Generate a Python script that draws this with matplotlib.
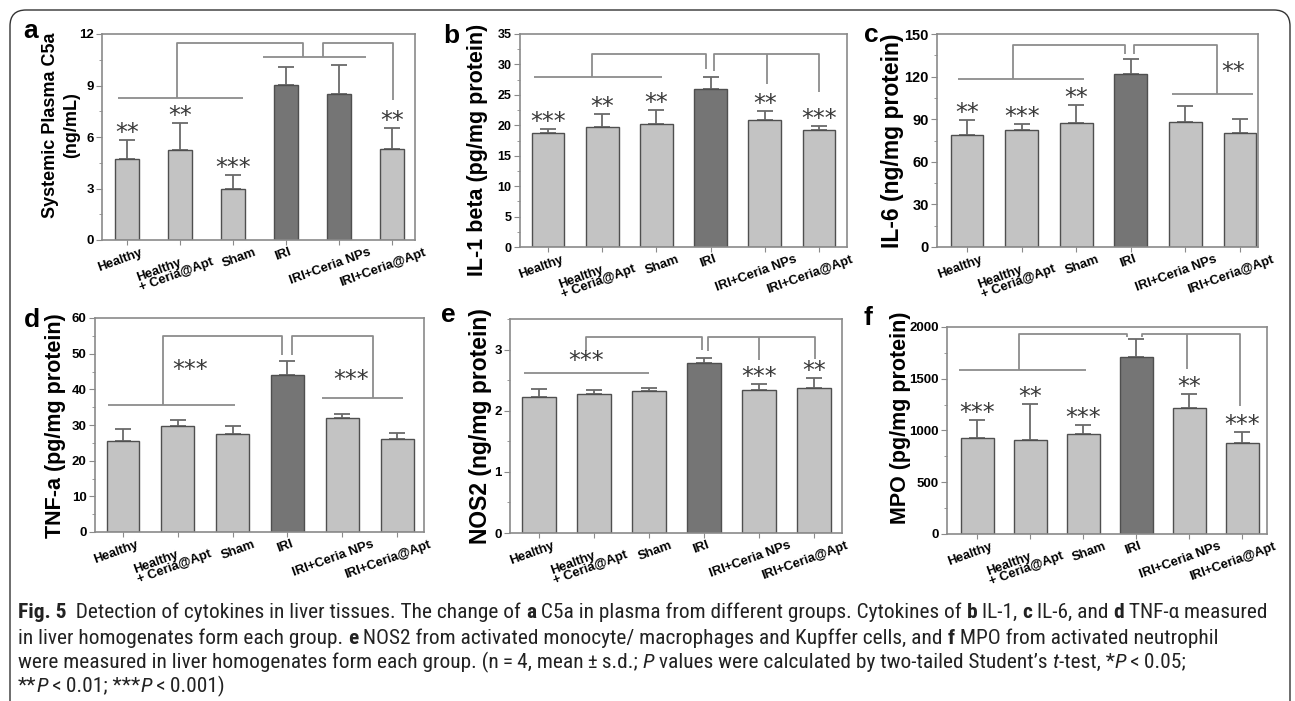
import matplotlib
matplotlib.use('Agg')
import matplotlib.pyplot as plt
from matplotlib.patches import FancyBboxPatch
from matplotlib.ticker import MultipleLocator, AutoMinorLocator
from matplotlib.transforms import ScaledTranslation
from matplotlib import font_manager

# groups and values (mean and s.d.)
groups = ['Healthy', 'Healthy\n+ Ceria@Apt', 'Sham', 'IRI', 'IRI+Ceria NPs', 'IRI+Ceria@Apt']

c5a_mean = [4.72, 5.27, 2.95, 9.05, 8.53, 5.33]
c5a_sd = [1.13, 1.53, 0.83, 1.0, 1.64, 1.18]
c5a_stars = ['**', '**', '***', '', '', '**']

il1_mean = [18.7, 19.7, 20.2, 25.9, 20.9, 19.2]
il1_sd = [0.75, 2.1, 2.3, 2.0, 1.4, 0.7]
il1_stars = ['***', '**', '**', '', '**', '***']

il6_mean = [78.6, 82.2, 87.6, 122.0, 88.0, 80.3]
il6_sd = [10.6, 4.7, 12.2, 10.4, 11.5, 9.6]
il6_stars = ['**', '***', '**', '', '', '']

tnf_mean = [25.6, 29.6, 27.6, 44.1, 32.0, 26.1]
tnf_sd = [3.3, 1.9, 2.2, 3.8, 1.2, 1.7]
tnf_stars = ['', '', '', '', '', '']

nos2_mean = [2.23, 2.28, 2.33, 2.78, 2.34, 2.375]
nos2_sd = [0.12, 0.06, 0.045, 0.09, 0.09, 0.165]
nos2_stars = ['', '', '', '', '***', '**']

mpo_mean = [932, 907, 971, 1711, 1222, 875]
mpo_sd = [168, 347, 80, 170, 135, 112]
mpo_stars = ['***', '**', '***', '', '**', '***']

# comparison brackets, in data units (bar index, value)
c5a_brackets = [
    ([-0.17, 2.19], [8.25, 8.25]),
    ([0.94, 0.94, 3.32, 3.32], [8.25, 11.48, 11.48, 10.66]),
    ([2.57, 4.5], [10.66, 10.66]),
    ([3.7, 3.7, 5.02, 5.02], [10.66, 11.48, 11.48, 8.16]),
]
il1_brackets = [
    ([-0.26, 2.1], [28.0, 28.0]),
    ([0.81, 0.81, 2.92, 2.92], [28.0, 31.7, 31.7, 29.3]),
    ([3.06, 3.06, 5.0, 5.0], [29.0, 31.7, 31.7, 25.4]),
    ([4.04, 4.04], [31.7, 26.8]),
]
il6_brackets = [
    ([-0.16, 2.14], [118.5, 118.5]),
    ([0.84, 0.84, 2.89, 2.89], [118.5, 142.0, 142.0, 136.2]),
    ([3.06, 3.06, 4.58, 4.58], [136.2, 142.0, 142.0, 107.5]),
    ([3.75, 5.23], [107.5, 107.5]),
]
il6_notes = [(4.88, 123.2, '**')]
tnf_brackets = [
    ([-0.27, 2.04], [35.7, 35.7]),
    ([0.73, 0.73, 2.9, 2.9], [35.7, 55.0, 55.0, 49.7]),
    ([3.08, 3.08, 4.56, 4.56], [49.7, 55.0, 55.0, 37.6]),
    ([3.63, 5.11], [37.6, 37.6]),
]
tnf_notes = [(1.22, 45.5, '***'), (4.16, 42.7, '***')]
nos2_brackets = [
    ([-0.27, 2.0], [2.62, 2.62]),
    ([0.85, 0.85, 2.96, 2.96], [2.98, 3.21, 3.21, 2.99]),
    ([3.07, 3.07, 5.02, 5.02], [2.98, 3.21, 3.21, 2.84]),
    ([4.0, 4.0], [3.21, 2.83]),
]
nos2_notes = [(0.85, 2.81, '***')]
mpo_brackets = [
    ([-0.34, 2.06], [1582, 1582]),
    ([0.79, 0.79, 2.83, 2.83], [1582, 1936, 1936, 1900]),
    ([3.11, 3.11, 4.96, 4.96], [1900, 1936, 1936, 1235]),
    ([3.96, 3.96], [1936, 1598]),
]

W, H = 1295, 701
fig = plt.figure(figsize=(W / 100, H / 100), dpi=100)
plt.rcParams['font.family'] = ['Liberation Sans', 'DejaVu Sans']

light = '#c3c3c3'
dark = '#757575'
edge = '#4f4f4f'
line_c = '#8c8c8c'
spine_c = '#8a8a8a'
# nudge of each rotated group label, in pixels
label_nudge = [-7, -5, 6, -3, -9, -9]


def px(x0, y_top, x1, y_bot):
    # pixel box -> figure fraction
    return [x0 / W, 1 - y_bot / H, (x1 - x0) / W, (y_bot - y_top) / H]


def panel(rect, xlim, ylim, step, mean, sd, stars, brackets, notes, width, dark_bars, ytick_fs):
    ax = fig.add_axes(rect)
    x = list(range(len(mean)))
    colors = [dark if g in dark_bars else light for g in groups]
    ax.bar(x, mean, width=width, color=colors, edgecolor=edge, linewidth=1.0, zorder=2)
    ax.errorbar(x, mean, yerr=[[0] * len(sd), sd], fmt='none', ecolor='#6a6a6a',
                elinewidth=1.3, capsize=5.5, capthick=1.3, zorder=1)
    for i, s in enumerate(stars):
        if s:
            ax.annotate(s, (i, mean[i] + sd[i]), xytext=(0, 5), textcoords='offset points',
                        ha='center', va='center', fontsize=17, color='#3a3a3a',
                        family='DejaVu Sans')
    for xs, ys in brackets:
        ax.plot(xs, ys, color=line_c, lw=1.3, solid_capstyle='butt', clip_on=False)
    for nx, ny, s in notes:
        ax.text(nx, ny, s, ha='center', va='center', fontsize=17, color='#3a3a3a',
                family='DejaVu Sans')
    ax.set_xlim(*xlim)
    ax.set_ylim(*ylim)
    ax.yaxis.set_major_locator(MultipleLocator(step))
    ax.yaxis.set_minor_locator(AutoMinorLocator(2))
    ax.set_xticks(x)
    ax.tick_params(axis='both', which='both', color=spine_c, direction='out')
    ax.tick_params(axis='y', which='major', length=4, pad=2)
    ax.tick_params(axis='y', which='minor', length=2.5)
    ax.tick_params(axis='x', length=3.5, pad=1)
    ax.set_xticklabels(groups, rotation=20, ha='center', va='top', multialignment='left',
                       fontsize=9.4, fontweight='bold', linespacing=0.8)
    for lab, dx in zip(ax.get_xticklabels(), label_nudge):
        lab.set_transform(lab.get_transform() + ScaledTranslation(dx / 100, 0, fig.dpi_scale_trans))
    for lab in ax.get_yticklabels():
        lab.set_fontweight('bold')
        lab.set_fontsize(ytick_fs)
    for sp in ax.spines.values():
        sp.set_color(spine_c)
        sp.set_linewidth(1.2)
    return ax


ax_a = panel(px(102, 34, 415, 240), (-0.47, 5.43), (0, 12), 3,
             c5a_mean, c5a_sd, c5a_stars, c5a_brackets, [], 0.45, ['IRI', 'IRI+Ceria NPs'], 9.5)
ax_b = panel(px(520, 34, 847, 247), (-0.52, 5.52), (0, 35), 5,
             il1_mean, il1_sd, il1_stars, il1_brackets, [], 0.6, ['IRI'], 9)
ax_c = panel(px(937, 34, 1258, 247), (-0.55, 5.33), (0, 150), 30,
             il6_mean, il6_sd, il6_stars, il6_brackets, il6_notes, 0.6, ['IRI'], 10.5)
ax_d = panel(px(95, 318, 424, 532), (-0.51, 5.49), (0, 60), 10,
             tnf_mean, tnf_sd, tnf_stars, tnf_brackets, tnf_notes, 0.6, ['IRI'], 9.5)
ax_e = panel(px(510, 319, 842, 533), (-0.53, 5.51), (0, 3.5), 1,
             nos2_mean, nos2_sd, nos2_stars, nos2_brackets, nos2_notes, 0.62, ['IRI'], 9.5)
ax_f = panel(px(947, 327, 1267, 534), (-0.57, 5.47), (0, 2000), 500,
             mpo_mean, mpo_sd, mpo_stars, mpo_brackets, [], 0.62, ['IRI'], 9.5)

# y labels and panel letters
ylabels = [
    (61, 125, 'Systemic Plasma C5a\n(ng/mL)', 13),
    (477, 150, 'IL-1 beta (pg/mg protein)', 15.5),
    (893, 141, 'IL-6 (ng/mg protein)', 16.5),
    (55, 426, 'TNF-a (pg/mg protein)', 15.5),
    (481, 426, 'NOS2 (ng/mg protein)', 16.5),
    (900, 418, 'MPO (pg/mg protein)', 15.5),
]
for lx, ly, s, fs in ylabels:
    fig.text(lx / W, 1 - ly / H, s, rotation=90, ha='center', va='center',
             fontsize=fs, fontweight='bold', linespacing=1.3)

letters = [(23, 38, 'a'), (443, 43, 'b'), (864, 42, 'c'),
           (24, 327, 'd'), (441, 322, 'e'), (864, 325, 'f')]
for lx, ly, s in letters:
    fig.text(lx / W, 1 - ly / H, s, ha='left', va='baseline', fontsize=19, fontweight='bold')

# rounded frame around the figure (open below the image edge)
frame = FancyBboxPatch((0.1, -0.5), 12.8, 7.01 - 0.1 + 0.5,
                       boxstyle='round,pad=0,rounding_size=0.16',
                       transform=fig.dpi_scale_trans, fill=False,
                       edgecolor='#333333', lw=1.0, clip_on=False)
fig.patches.append(frame)

# caption, drawn run by run so bold / italic pieces can be mixed
cap_font = 'Liberation Sans'
for cand in ['Liberation Sans Narrow', 'DejaVu Sans Condensed', 'Roboto Condensed',
             'Open Sans Condensed']:
    try:
        font_manager.findfont(cand, fallback_to_default=False)
        cap_font = cand
        break
    except ValueError:
        pass

caption = [
    [('Fig. 5', 'bold'), ('  Detection of cytokines in liver tissues. The change of ', ''), ('a', 'bold'),
     (' C5a in plasma from different groups. Cytokines of ', ''), ('b', 'bold'), (' IL-1, ', ''),
     ('c', 'bold'), (' IL-6, and ', ''), ('d', 'bold'), (' TNF-\u03b1 measured', '')],
    [('in liver homogenates form each group. ', ''), ('e', 'bold'),
     (' NOS2 from activated monocyte/ macrophages and Kupffer cells, and ', ''), ('f', 'bold'),
     (' MPO from activated neutrophil', '')],
    [('were measured in liver homogenates form each group. (n\u2009=\u20094, mean\u2009\u00b1\u2009s.d.; ', ''),
     ('P', 'italic'), (' values were calculated by two-tailed Student\u2019s ', ''), ('t', 'italic'),
     ('-test, *', ''), ('P', 'italic'), ('\u2009<\u20090.05;', '')],
    [('**', ''), ('P', 'italic'), ('\u2009<\u20090.01; ***', ''), ('P', 'italic'), ('\u2009<\u20090.001)', '')],
]
cap_y = [612, 638, 662, 686]

renderer = fig.canvas.get_renderer()


def draw_line(line, y, size, draw=True):
    x = 18
    for txt, style in line:
        t = fig.text(x / W, 1 - y / H, txt, ha='left', va='center', fontsize=size,
                     family=[cap_font, 'DejaVu Sans'],
                     fontweight='bold' if style == 'bold' else 'normal',
                     fontstyle='italic' if style == 'italic' else 'normal', color='#222222')
        x += t.get_window_extent(renderer).width
        if not draw:
            t.remove()
    return x - 18


# size the caption so the first line spans the same width as in the figure
trial = draw_line(caption[0], cap_y[0], 10, draw=False)
cap_size = 10 * 1245 / trial
for line, y in zip(caption, cap_y):
    draw_line(line, y, cap_size)

fig.savefig('out.png', dpi=100)
